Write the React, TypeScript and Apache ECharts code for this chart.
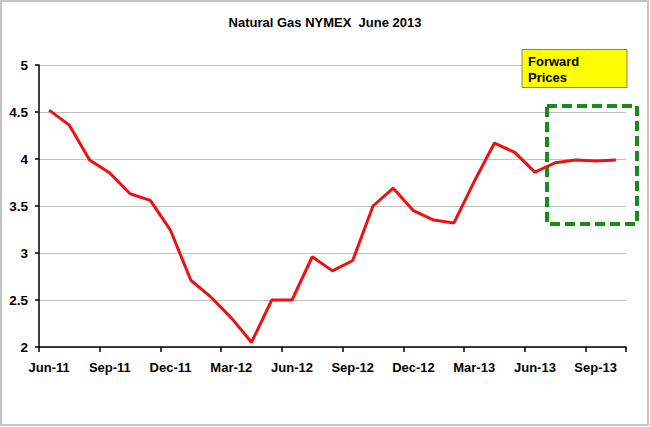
import React, { useEffect, useRef } from "react";
import * as echarts from "echarts";

const months = ["Jun-11","Jul-11","Aug-11","Sep-11","Oct-11","Nov-11","Dec-11","Jan-12","Feb-12","Mar-12","Apr-12","May-12","Jun-12","Jul-12","Aug-12","Sep-12","Oct-12","Nov-12","Dec-12","Jan-13","Feb-13","Mar-13","Apr-13","May-13","Jun-13","Jul-13","Aug-13","Sep-13","Oct-13"];
const prices = [4.52, 4.36, 3.99, 3.85, 3.63, 3.56, 3.24, 2.71, 2.53, 2.31, 2.05, 2.50, 2.50, 2.96, 2.81, 2.92, 3.50, 3.69, 3.45, 3.35, 3.32, 3.76, 4.17, 4.07, 3.86, 3.96, 3.99, 3.98, 3.99];
const titleText = "Natural Gas NYMEX  June 2013";
const noteText = "Forward\nPrices";

const FONT = "'Liberation Sans', Arial, sans-serif";

export default function App() {
  const ref = useRef<HTMLDivElement>(null);
  useEffect(() => {
    if (!ref.current) return;
    const chart = echarts.init(ref.current, null, { renderer: "svg" });
    chart.setOption({
      animation: false,
      backgroundColor: "#fff",
      title: {
        text: titleText,
        left: "center",
        top: 11,
        textStyle: { fontFamily: FONT, fontSize: 13, fontWeight: "bold", color: "#000" },
      },
      grid: { left: 39, right: 24, top: 65, bottom: 80, containLabel: false },
      xAxis: {
        type: "category",
        data: months,
        boundaryGap: true,
        axisLine: { show: true, lineStyle: { color: "#000", width: 1.5 } },
        axisTick: {
          show: true,
          interval: (index: number) => index % 3 === 0 && index < months.length,
          length: 5,
          lineStyle: { color: "#000", width: 1.5 },
        },
        axisLabel: { interval: 2, margin: 14, fontFamily: FONT, fontSize: 13, fontWeight: "bold", color: "#000" },
        splitLine: { show: false },
      },
      yAxis: {
        type: "value",
        min: 2,
        max: 5,
        interval: 0.5,
        axisLine: { show: true, lineStyle: { color: "#000", width: 1.5 } },
        axisTick: { show: true, length: 4, lineStyle: { color: "#000", width: 1.5 } },
        axisLabel: { margin: 11, fontFamily: FONT, fontSize: 13.5, fontWeight: "bold", color: "#000" },
        splitLine: { show: true, lineStyle: { color: "#bfbfbf", width: 1 } },
      },
      series: [
        {
          type: "line",
          data: prices,
          symbol: "none",
          lineStyle: { color: "#ee1111", width: 3 },
          z: 3,
        },
      ],
      graphic: [
        {
          type: "rect",
          shape: { x: 1, y: 1, width: 647, height: 424 },
          style: { fill: "none", stroke: "#c4c4c4", lineWidth: 2 },
          silent: true,
        },
        {
          type: "rect",
          shape: { x: 522, y: 49.5, width: 105, height: 38 },
          style: { fill: "#ffff00", stroke: "#808080", lineWidth: 1 },
          z: 10,
        },
        {
          type: "text",
          x: 528,
          y: 53,
          style: { text: noteText, fontFamily: FONT, fontSize: 13, fontWeight: "bold", fill: "#000", lineHeight: 16 },
          z: 11,
        },
        {
          type: "rect",
          shape: { x: 547, y: 106, width: 90, height: 118 },
          style: { fill: "none", stroke: "#1a8a1a", lineWidth: 4, lineDash: [10, 5] },
          z: 10,
        },
      ],
    });
    return () => chart.dispose();
  }, []);
  return (
    <div
      ref={ref}
      style={{ position: "fixed", left: 0, top: 0, width: 650, height: 427 }}
    />
  );
}
